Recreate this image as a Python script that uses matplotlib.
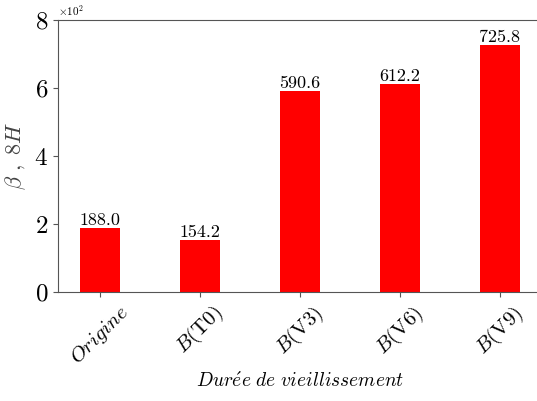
import matplotlib
matplotlib.use("Agg")
import matplotlib.pyplot as plt

plt.rcParams['font.family'] = 'serif'
plt.rcParams['font.serif'] = ['cmr10']
plt.rcParams['mathtext.fontset'] = 'cm'
plt.rcParams['axes.formatter.use_mathtext'] = True
plt.rcParams['axes.unicode_minus'] = False

categories = [r'$Origine$', r'$B$(T0)', r'$B$(V3)', r'$B$(V6)', r'$B$(V9)']
values = [188.0, 154.2, 590.6, 612.2, 725.8]

fig = plt.figure(figsize=(5.37, 4.01), dpi=100)
ax = fig.add_axes([58 / 537, 1 - 292 / 401, (542 - 58) / 537, (292 - 20) / 401])

x = list(range(len(values)))
ax.bar(x, values, width=0.4, color='red')
for xi, v in zip(x, values):
    ax.text(xi, v, f'{v:.1f}', ha='center', va='bottom', fontsize=13)

ax.set_xlim(-0.42, 4.42)
ax.set_ylim(0, 800)
ax.set_yticks([0, 200, 400, 600, 800])
ax.ticklabel_format(axis='y', style='sci', scilimits=(0, 0), useMathText=True)
ax.yaxis.get_offset_text().set_fontsize(8)
ax.tick_params(axis='y', labelsize=18, color='#555555')
ax.tick_params(axis='x', color='#555555')
ax.set_xticks(x)
ax.set_xticklabels(categories, rotation=45, fontsize=15, ha='center')

ax.spines['right'].set_visible(False)
for side in ('left', 'top', 'bottom'):
    ax.spines[side].set_color('#555555')

ax.set_ylabel(r'$\beta\ ,\ 8H$', fontsize=16, color='#444444')
ax.yaxis.set_label_coords(-0.062, 0.5)
ax.set_xlabel(r'$Dur\acute{e}e\ de\ vieillissement$', fontsize=14, labelpad=2)

fig.savefig('out.png', dpi=100)
